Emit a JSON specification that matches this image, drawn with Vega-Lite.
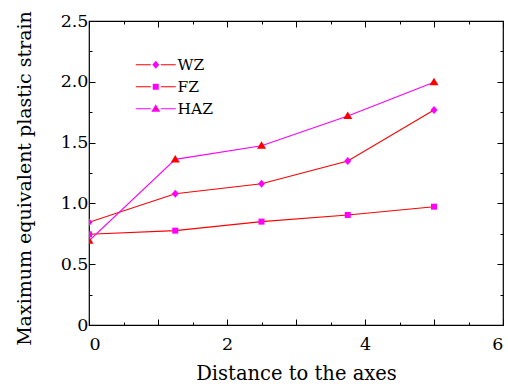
{
  "$schema": "https://vega.github.io/schema/vega-lite/v6.json",
  "width": 414,
  "height": 304,
  "autosize": "none",
  "padding": {"left": 89, "top": 21, "right": 5, "bottom": 63},
  "background": "white",
  "config": {
    "view": {"stroke": "#000", "strokeWidth": 1.2},
    "axis": {
      "domain": false, "grid": false, "tickColor": "#000", "tickWidth": 1,
      "labelColor": "#000", "labelFont": "DejaVu Serif", "labelFontSize": 17.5,
      "titleFont": "DejaVu Serif", "titleFontWeight": "normal", "titleColor": "#000"
    },
    "legend": {"labelFont": "DejaVu Serif", "labelFontSize": 15.5, "labelColor": "#000", "padding": 0}
  },
  "data": {"values": [
    {"series": "WZ", "x": 0, "y": 0.845},
    {"series": "WZ", "x": 1.25, "y": 1.08},
    {"series": "WZ", "x": 2.5, "y": 1.162},
    {"series": "WZ", "x": 3.75, "y": 1.349},
    {"series": "WZ", "x": 5, "y": 1.768},
    {"series": "FZ", "x": 0, "y": 0.746},
    {"series": "FZ", "x": 1.25, "y": 0.776},
    {"series": "FZ", "x": 2.5, "y": 0.85},
    {"series": "FZ", "x": 3.75, "y": 0.905},
    {"series": "FZ", "x": 5, "y": 0.973},
    {"series": "HAZ", "x": 0, "y": 0.693},
    {"series": "HAZ", "x": 1.25, "y": 1.362},
    {"series": "HAZ", "x": 2.5, "y": 1.474},
    {"series": "HAZ", "x": 3.75, "y": 1.719},
    {"series": "HAZ", "x": 5, "y": 1.996}
  ]},
  "resolve": {"axis": {"x": "independent", "y": "independent"}},
  "layer": [
    {
      "mark": {"type": "line", "clip": true},
      "encoding": {
        "x": {"field": "x", "type": "quantitative", "scale": {"domain": [0, 6], "nice": false, "zero": false},
          "axis": {"orient": "bottom", "values": [0, 1, 2, 3, 4, 5, 6], "tickSize": -6, "labelPadding": 16,
            "labelExpr": "datum.value % 2 === 0 ? datum.label : ''", "title": "Distance to the axes",
            "titleFontSize": 19.5, "titlePadding": 12}},
        "y": {"field": "y", "type": "quantitative", "scale": {"domain": [0, 2.5], "nice": false, "zero": false},
          "axis": {"orient": "left", "values": [0, 0.5, 1, 1.5, 2, 2.5], "tickSize": -6, "labelPadding": 7,
            "labelExpr": "datum.value === 0 ? '0' : format(datum.value, '.1f')",
            "title": "Maximum equivalent plastic strain", "titleFontSize": 19, "titlePadding": 26, "titleY": 157}},
        "stroke": {"field": "series", "type": "nominal",
          "scale": {"domain": ["WZ", "FZ", "HAZ"], "range": ["#ff0000", "#ff0000", "#ff00ff"]},
          "legend": {"orient": "none", "legendX": 59, "legendY": 36, "title": null,
            "symbolType": "M-20,0H-5M5,0H20", "symbolSize": 4, "labelOffset": 14, "rowPadding": 5,
            "labelColor": "#000"}},
        "strokeWidth": {"field": "series", "type": "ordinal",
          "scale": {"domain": ["WZ", "FZ", "HAZ"], "range": [1.1, 1.1, 2.2]},
          "legend": {"orient": "none", "legendX": 59, "legendY": 36, "title": null,
            "symbolType": "M-20,0H-5M5,0H20", "symbolSize": 4, "labelOffset": 14, "rowPadding": 5,
            "labelColor": "#000"}},
        "order": {"field": "x"}
      }
    },
    {
      "mark": {"type": "point", "filled": true, "opacity": 1, "strokeWidth": 0, "size": 4, "clip": true},
      "encoding": {
        "x": {"field": "x", "type": "quantitative",
          "axis": {"orient": "bottom", "values": [0.5, 1.5, 2.5, 3.5, 4.5, 5.5], "tickSize": -3, "labels": false, "title": null}},
        "y": {"field": "y", "type": "quantitative",
          "axis": {"orient": "left", "values": [0.25, 0.75, 1.25, 1.75, 2.25], "tickSize": -3, "labels": false, "title": null}},
        "fill": {"field": "series", "type": "nominal", "sort": ["WZ", "FZ", "HAZ"],
          "scale": {"range": ["#ff00ff", "#ff00ff", "#ff0000"]},
          "legend": {"orient": "none", "legendX": 59, "legendY": 36, "title": null, "labelColor": "rgba(0,0,0,0)",
            "symbolSize": 4, "labelOffset": 14, "rowPadding": 5, "symbolStrokeWidth": 0, "symbolFillColor": "#ff00ff"}},
        "shape": {"field": "series", "type": "nominal", "sort": ["WZ", "FZ", "HAZ"],
          "scale": {"range": ["M0,-4L3.5,0L0,4L-3.5,0Z", "M-3,-3H3V3H-3Z", "M0,-4.5L4.5,3L-4.5,3Z"]},
          "legend": {"orient": "none", "legendX": 59, "legendY": 36, "title": null, "labelColor": "rgba(0,0,0,0)",
            "symbolSize": 4, "labelOffset": 14, "rowPadding": 5, "symbolStrokeWidth": 0, "symbolFillColor": "#ff00ff"}}
      }
    },
    {
      "mark": {"type": "point", "opacity": 0},
      "encoding": {
        "x": {"field": "x", "type": "quantitative",
          "axis": {"orient": "top", "values": [0, 1, 2, 3, 4, 5, 6], "tickSize": -6, "labels": false, "title": null}},
        "y": {"field": "y", "type": "quantitative",
          "axis": {"orient": "right", "values": [0, 0.5, 1, 1.5, 2, 2.5], "tickSize": -6, "labels": false, "title": null}}
      }
    },
    {
      "mark": {"type": "point", "opacity": 0},
      "encoding": {
        "x": {"field": "x", "type": "quantitative",
          "axis": {"orient": "top", "values": [0.5, 1.5, 2.5, 3.5, 4.5, 5.5], "tickSize": -3, "labels": false, "title": null}},
        "y": {"field": "y", "type": "quantitative",
          "axis": {"orient": "right", "values": [0.25, 0.75, 1.25, 1.75, 2.25], "tickSize": -3, "labels": false, "title": null}}
      }
    }
  ]
}
